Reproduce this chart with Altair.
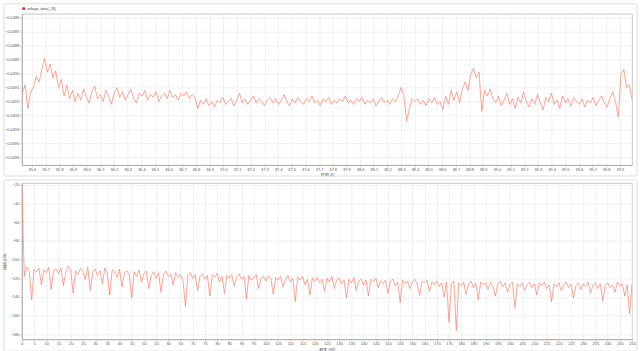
import altair as alt
import pandas as pd
import numpy as np

# ---------------- data ----------------
series_name = "voltage_data(_26)"
time_start, time_end = 35.53, 39.99

voltage = [
    -0.04914, -0.04908, -0.04925, -0.04913, -0.04910, -0.04902, -0.04906, -0.04897, -0.04889, -0.04899,
    -0.04893, -0.04903, -0.04898, -0.04910, -0.04904, -0.04916, -0.04908, -0.04918, -0.04912, -0.04920,
    -0.04914, -0.04919, -0.04911, -0.04917, -0.04921, -0.04913, -0.04909, -0.04918, -0.04915, -0.04920,
    -0.04912, -0.04916, -0.04922, -0.04914, -0.04910, -0.04917, -0.04913, -0.04919, -0.04915, -0.04911,
    -0.04918, -0.04921, -0.04914, -0.04916, -0.04912, -0.04919, -0.04915, -0.04917, -0.04913, -0.04920,
    -0.04916, -0.04914, -0.04918, -0.04912, -0.04917, -0.04915, -0.04919, -0.04914, -0.04916, -0.04913,
    -0.04918, -0.04915, -0.04917,
    -0.04925, -0.04919, -0.04922, -0.04918, -0.04923, -0.04920, -0.04924, -0.04919, -0.04921, -0.04917,
    -0.04922, -0.04920, -0.04918, -0.04923, -0.04919, -0.04914, -0.04921, -0.04918, -0.04922, -0.04919,
    -0.04916, -0.04921, -0.04918, -0.04920, -0.04923, -0.04919, -0.04917, -0.04921, -0.04918, -0.04922,
    -0.04919, -0.04915, -0.04920, -0.04923, -0.04918, -0.04921, -0.04917, -0.04920, -0.04922, -0.04918,
    -0.04920, -0.04916, -0.04921, -0.04919, -0.04923, -0.04918, -0.04920, -0.04917, -0.04922, -0.04919,
    -0.04921, -0.04918, -0.04920, -0.04916, -0.04921, -0.04919, -0.04922, -0.04918,
    -0.04920, -0.04917, -0.04922, -0.04919, -0.04921, -0.04918, -0.04923, -0.04920, -0.04917, -0.04921,
    -0.04919, -0.04922, -0.04918, -0.04920, -0.04916,
    -0.04910, -0.04915, -0.04934, -0.04925, -0.04918,
    -0.04920, -0.04918, -0.04922, -0.04919, -0.04923, -0.04918, -0.04921, -0.04917, -0.04922, -0.04920,
    -0.04926, -0.04916, -0.04922, -0.04912, -0.04919,
    -0.04913, -0.04921, -0.04911, -0.04906, -0.04912, -0.04901, -0.04896, -0.04903, -0.04899, -0.04927,
    -0.04912, -0.04916, -0.04911, -0.04918,
    -0.04921, -0.04916, -0.04923, -0.04919, -0.04914, -0.04922, -0.04918, -0.04925, -0.04917, -0.04921,
    -0.04913, -0.04920, -0.04924, -0.04918, -0.04922, -0.04915, -0.04921, -0.04926, -0.04917, -0.04920,
    -0.04914, -0.04922, -0.04919, -0.04925, -0.04916, -0.04921, -0.04918, -0.04923, -0.04917, -0.04920,
    -0.04922, -0.04918, -0.04924, -0.04919, -0.04921, -0.04917, -0.04923, -0.04919, -0.04916, -0.04921,
    -0.04924, -0.04918, -0.04913, -0.04920,
    -0.04931, -0.04900, -0.04897, -0.04910, -0.04908, -0.04919,
]

# magnitude spectrum, one value per Hz from 0 to 250 Hz
magnitude_db = [
    -23, -118, -108, -112, -143, -110, -113, -109, -127, -111,
    -114, -108, -132, -112, -110, -115, -109, -128, -113, -107,
    -111, -136, -112, -116, -109, -113, -121, -108, -133, -114,
    -110, -117, -112, -126, -109, -115, -138, -111, -113, -119,
    -110, -129, -114, -112, -116, -141, -113, -118, -111, -124,
    -115, -112, -131, -117, -113, -120, -114, -135, -116, -112,
    -118, -115, -127, -114, -119, -116, -122, -150, -117, -114,
    -120, -116, -133, -118, -115, -121, -117, -139, -116, -119,
    -115, -124, -118, -136, -117, -120, -116, -128, -119, -115,
    -121, -118, -142, -117, -122, -119, -116, -131, -120, -118,
    -123, -117, -120, -137, -119, -122, -118, -129, -121, -117,
    -124, -120, -145, -119, -122, -118, -127, -121, -138, -120,
    -123, -119, -125, -121, -134, -120, -124, -118, -131, -122,
    -120, -126, -122, -141, -121, -125, -119, -133, -123, -121,
    -127, -122, -139, -121, -124, -120, -130, -123, -126, -122,
    -136, -123, -121, -128, -124, -146, -122, -126, -123, -131,
    -124, -121, -127, -138, -123, -125, -122, -134, -124, -127,
    -123, -129, -125, -140, -124, -167, -126, -123, -176, -125,
    -128, -124, -137, -126, -123, -130, -125, -143, -124, -127,
    -125, -132, -124, -128, -139, -126, -123, -129, -125, -135,
    -127, -124, -152, -126, -129, -125, -133, -127, -124, -130,
    -126, -138, -125, -128, -124, -131, -127, -145, -126, -129,
    -125, -133, -127, -124, -130, -126, -141, -128, -125, -132,
    -126, -129, -124, -136, -127, -125, -131, -126, -144, -128,
    -125, -130, -127, -135, -124, -128, -126, -139, -127, -158,
    -126,
]

time_ticks = [round(35.6 + 0.1 * i, 1) for i in range(44)]
volt_ticks = [round(-0.0486 - 0.0001 * i, 4) for i in range(11)]
freq_ticks = list(range(0, 251, 5))
mag_ticks = list(range(-20, -181, -20))

time_title = "时间 (s)"
freq_title = "频率 (Hz)"
mag_title = "幅值 (dB)"

# ---------------- tables ----------------
top_df = pd.DataFrame({
    "time": np.linspace(time_start, time_end, len(voltage)),
    "voltage": voltage,
    "series": series_name,
})
bot_df = pd.DataFrame({"freq": np.arange(len(magnitude_db)), "mag": magnitude_db})
frame_df = pd.DataFrame({"k": [0]})

LINE = "#ff7358"
LABEL_FONT = "Liberation Sans"
CJK_FONT = "Noto Sans CJK SC"
GRID = "#e8e8e8"
FRAME = "#d4d4d4"

axis_common = dict(
    labelFont=LABEL_FONT, labelFontSize=4, labelColor="#555555",
    gridColor=GRID, gridWidth=0.6, domainColor="#a8a8a8", domainWidth=0.8,
    tickColor="#b0b0b0", tickSize=2, tickWidth=0.6,
    titleFont=CJK_FONT, titleFontSize=4, titleFontWeight="normal", titleColor="#444444",
    labelOverlap=False, labelFlush=False,
)

# ---------------- top panel ----------------
W = 613
H1, H2 = 152, 157

frame_top = alt.Chart(frame_df).mark_rect(
    fillOpacity=0, stroke=FRAME, strokeWidth=0.8, cornerRadius=2
).encode(
    x=alt.value(-18), x2=alt.value(W + 5), y=alt.value(-10), y2=alt.value(H1 + 11)
)

line_top = alt.Chart(top_df).mark_line(strokeWidth=0.65, clip=True).encode(
    x=alt.X("time:Q",
            scale=alt.Scale(domain=[35.527, 39.989], nice=False, zero=False),
            axis=alt.Axis(values=time_ticks, format=".1f", title=time_title,
                          labelPadding=0.5, titlePadding=1, **axis_common)),
    y=alt.Y("voltage:Q",
            scale=alt.Scale(domain=[-0.049655, -0.048571], nice=False, zero=False),
            axis=alt.Axis(values=volt_ticks, format=".4f", title=None,
                          labelPadding=1, **axis_common)),
    color=alt.Color("series:N", scale=alt.Scale(range=[LINE]),
                    legend=alt.Legend(orient="none", legendX=0, legendY=-7, title=None,
                                      symbolType="square", symbolSize=7,
                                      symbolFillColor="#ee2a10", symbolStrokeWidth=0,
                                      labelFont=LABEL_FONT, labelFontSize=3.6,
                                      labelColor="#444444", padding=0, labelOffset=1.5,
                                      symbolOffset=0)),
)

top = alt.layer(frame_top, line_top).properties(width=W, height=H1)

# ---------------- bottom panel ----------------
frame_bot = alt.Chart(frame_df).mark_rect(
    fillOpacity=0, stroke=FRAME, strokeWidth=0.8, cornerRadius=2
).encode(
    x=alt.value(-18), x2=alt.value(W + 5), y=alt.value(-3), y2=alt.value(H2 + 12)
)

line_bot = alt.Chart(bot_df).mark_line(strokeWidth=0.65, color=LINE, clip=True).encode(
    x=alt.X("freq:Q",
            scale=alt.Scale(domain=[0, 250], nice=False, zero=False),
            axis=alt.Axis(values=freq_ticks, format="d", title=freq_title,
                          labelPadding=0, titlePadding=2, **axis_common)),
    y=alt.Y("mag:Q",
            scale=alt.Scale(domain=[-185.3, -17.9], nice=False, zero=False),
            axis=alt.Axis(values=mag_ticks, format="d", title=mag_title,
                          labelPadding=1, titlePadding=3, **axis_common)),
)

bottom = alt.layer(frame_bot, line_bot).properties(width=W, height=H2)

chart = (
    alt.vconcat(top, bottom, spacing=2)
    .resolve_scale(x="independent", y="independent", color="independent")
    .properties(padding=2, background="white")
    .configure_view(stroke="#b8b8b8", strokeWidth=0.8)
)

chart.save("out.html", embed_options={"renderer": "svg", "actions": False})
